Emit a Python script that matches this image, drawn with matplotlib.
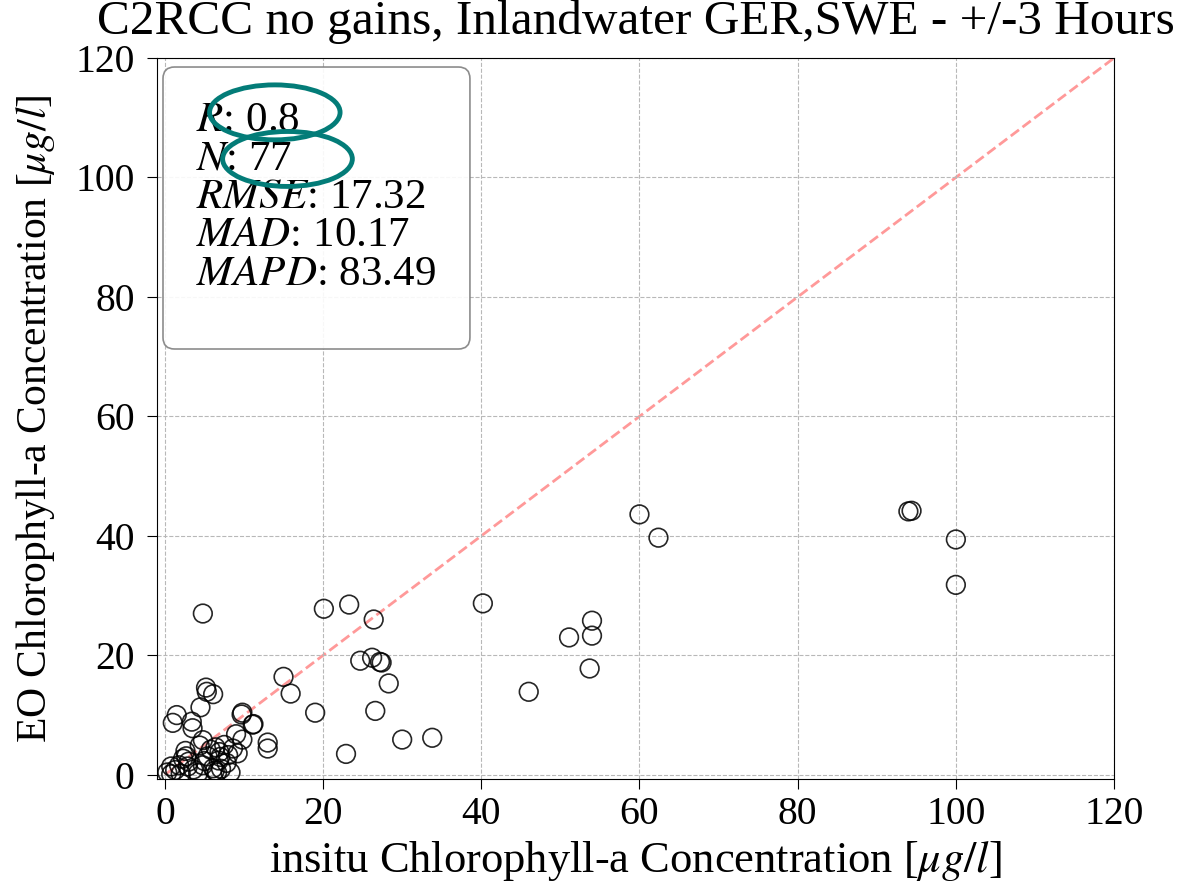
import matplotlib
matplotlib.use('Agg')
import matplotlib.pyplot as plt
from matplotlib.patches import Ellipse, FancyBboxPatch

plt.rcParams['font.family'] = ['Liberation Serif', 'DejaVu Serif']
plt.rcParams['mathtext.fontset'] = 'stix'

# in-situ vs satellite chlorophyll-a matchups (ug/l)
insitu = [60.0, 62.4, 94.0, 94.4, 100.0, 100.0, 40.2, 46.0, 51.1, 54.0, 54.0, 53.7,
          20.1, 23.3, 26.4, 24.7, 26.2, 27.2, 27.4, 28.3, 26.6, 30.0, 33.8, 22.9,
          19.0, 15.9, 15.0, 11.2, 13.0, 13.0, 4.8,
          5.2, 6.1, 4.5, 1.5, 1.0, 3.4, 3.5, 9.8, 11.1, 4.8, 9.0, 9.8, 2.6, 2.7,
          6.4, 6.9, 7.0, 8.6, 9.2, 5.4, 0.8, 2.9, 4.8, 6.1, 7.1, 8.3, 2.0, 0.8,
          6.6, 4.2, 3.0, 5.0, 6.8, 1.3, 7.5, 5.8, 3.6, 7.8, 0.3, 2.3, 9.7, 5.3,
          8.0, 4.4, 1.8, 6.3]
eo = [43.6, 39.7, 44.1, 44.2, 39.4, 31.8, 28.7, 13.9, 23.0, 25.8, 23.3, 17.8,
      27.8, 28.5, 26.0, 19.1, 19.6, 18.9, 18.8, 15.3, 10.7, 5.9, 6.2, 3.5,
      10.4, 13.6, 16.4, 8.5, 5.4, 4.4, 27.0,
      14.6, 13.5, 11.3, 10.0, 8.7, 8.9, 7.8, 10.4, 8.4, 5.8, 6.8, 5.9, 4.0, 3.1,
      4.6, 3.8, 3.0, 4.4, 3.6, 3.1, 1.4, 1.4, 1.6, 1.1, 1.0, 0.4, 0.2, 0.1,
      0.4, 0.3, 2.2, 2.3, 2.4, 0.8, 5.0, 4.2, 0.9, 2.0, 0.4, 2.7, 10.1, 13.9,
      3.3, 4.9, 1.6, 0.7]

stat_names = ['R', 'N', 'RMSE', 'MAD', 'MAPD']
stat_values = ['0.8', '77', '17.32', '10.17', '83.49']

fig = plt.figure(figsize=(12.01, 8.91), dpi=100)
ax = fig.add_axes([0.1307, 0.1257, 0.7969, 0.8092])

ax.grid(True, linestyle='--', color='#b8b8b8', linewidth=0.8, zorder=0)
ax.plot([0, 120], [0, 120], '--', color='#ff8080', alpha=0.8, linewidth=2, zorder=1)
ax.scatter(insitu, eo, s=180, facecolors='none', edgecolors='black',
           linewidths=1.2, alpha=0.85, zorder=2)

ax.set_xlim(-1, 120)
ax.set_ylim(-0.7, 120)
ax.set_xticks(range(0, 121, 20))
ax.set_yticks(range(0, 121, 20))
ax.tick_params(labelsize=28.5, length=7)
ax.tick_params(axis='x', pad=5)
ax.tick_params(axis='y', pad=9)

ax.set_title('C2RCC no gains, Inlandwater GER,SWE - +/-3 Hours', fontsize=35.5, pad=17)
ax.set_xlabel(r'insitu Chlorophyll-a Concentration [$\mu g/l$]', fontsize=32)
ax.set_ylabel(r'EO Chlorophyll-a Concentration [$\mu g/l$]', fontsize=30)
ax.xaxis.set_label_coords(0.5, -0.083)
ax.yaxis.set_label_coords(-0.104, 0.5)

# stats box
box = FancyBboxPatch((0.0063, 0.5964), 0.3207, 0.3911, transform=ax.transAxes,
                     boxstyle='round,pad=0,rounding_size=0.012', mutation_aspect=1.33,
                     facecolor='white', edgecolor='#808080', linewidth=1.2,
                     alpha=0.9, zorder=3)
ax.add_patch(box)
stats = '\n'.join('$%s$: %s' % (n, v) for n, v in zip(stat_names, stat_values))
ax.text(0.041, 0.94, stats, transform=ax.transAxes, fontsize=31,
        va='top', ha='left', linespacing=1.0, zorder=4)

# highlight R and N
ax.add_patch(Ellipse((13.9, 110.9), 16.5, 9.2, fill=False, edgecolor='#037c78',
                     linewidth=3.5, zorder=5))
ax.add_patch(Ellipse((15.5, 103.1), 16.4, 9.2, fill=False, edgecolor='#037c78',
                     linewidth=3.5, zorder=5))

fig.savefig('out.png', dpi=100)
